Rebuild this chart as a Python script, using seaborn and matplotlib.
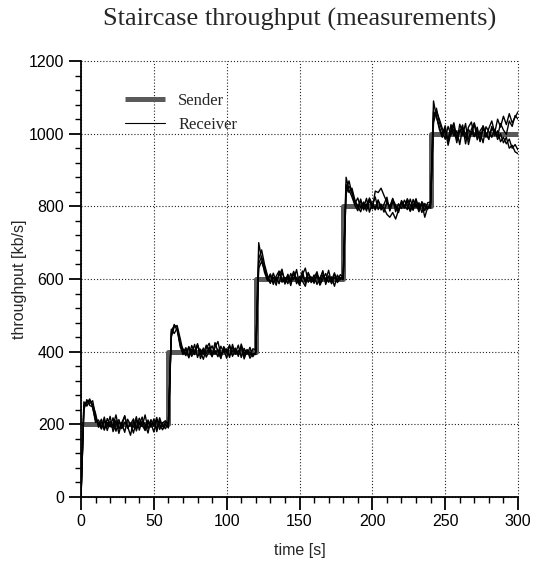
import numpy as np
import pandas as pd
import matplotlib
matplotlib.use("Agg")
import matplotlib.pyplot as plt
from matplotlib.lines import Line2D
from matplotlib.ticker import MultipleLocator
import seaborn as sns

# ---------------- data ----------------
sender_time = [0, 60, 120, 180, 240, 300]
sender_rate = [200, 400, 600, 800, 1000, 1000]

recv_time = np.arange(0, 301, 2)  # sample instants [s]

recv_1 = [
    0, 255, 262, 258, 265, 222, 198, 214, 186, 205, 193, 218, 181, 207, 196, 224, 189, 202, 176, 211, 199, 220, 185, 206, 192, 215, 180, 209, 197, 188,
    205, 455, 472, 468, 415, 392, 408, 385, 417, 398, 422, 381, 404, 395, 413, 388, 425, 399, 383, 410, 396, 419, 387, 406, 392, 415, 380, 403, 397, 390,
    398, 700, 655, 618, 596, 612, 585, 608, 622, 591, 604, 587, 615, 598, 626, 583, 609, 595, 618, 590, 603, 620, 586, 611, 597, 624, 589, 605, 593, 612,
    605, 880, 845, 826, 803, 788, 815, 797, 822, 784, 808, 795, 818, 790, 806, 825, 787, 812, 799, 783, 816, 803, 791, 820, 796, 808, 785, 813, 800, 792,
    810, 1090, 1045, 1018, 995, 1022, 978, 1010, 1030, 985, 1005, 1024, 972, 1012, 998, 1027, 983, 1008, 1020, 990, 1015, 1035, 1002, 1040, 1018, 1048, 1025, 1055, 1030, 1045, 1060,
]
recv_2 = [
    0, 240, 268, 252, 248, 205, 212, 190, 220, 183, 208, 196, 226, 187, 203, 178, 214, 199, 192, 221, 184, 209, 201, 176, 213, 195, 219, 186, 204, 210,
    198, 440, 468, 472, 438, 402, 389, 414, 396, 420, 384, 407, 393, 418, 401, 386, 412, 428, 391, 405, 382, 416, 399, 410, 387, 421, 395, 404, 389, 408,
    405, 630, 648, 625, 602, 588, 616, 594, 610, 627, 586, 603, 592, 619, 599, 584, 612, 630, 591, 606, 588, 614, 597, 623, 585, 608, 596, 617, 590, 602,
    598, 845, 870, 835, 812, 796, 820, 790, 805, 818, 793, 842, 838, 850, 830, 812, 798, 822, 785, 807, 794, 817, 802, 788, 819, 797, 810, 783, 808, 796,
    805, 1040, 1070, 1030, 1008, 985, 1020, 996, 1012, 975, 1026, 1003, 988, 1018, 1032, 992, 1010, 978, 1022, 1000, 986, 1015, 1004, 993, 1028, 1010, 998, 1035, 1020, 1050, 1040,
]
recv_3 = [
    0, 262, 250, 266, 255, 230, 192, 207, 184, 216, 198, 189, 211, 175, 205, 222, 191, 200, 215, 182, 207, 194, 226, 188, 203, 179, 212, 199, 185, 200,
    190, 462, 450, 465, 425, 397, 411, 383, 406, 392, 417, 400, 379, 409, 423, 394, 403, 386, 415, 398, 408, 384, 420, 393, 401, 413, 388, 406, 382, 395,
    392, 655, 680, 640, 610, 592, 605, 583, 618, 600, 589, 613, 596, 621, 587, 607, 594, 580, 616, 602, 592, 610, 583, 599, 615, 591, 606, 580, 611, 598,
    610, 860, 838, 850, 818, 800, 785, 812, 798, 823, 806, 790, 815, 801, 795, 778, 770, 783, 765, 790, 812, 797, 821, 804, 789, 815, 799, 809, 770, 798,
    795, 1060, 1050, 1012, 990, 1015, 968, 1003, 1021, 987, 1010, 996, 1028, 970, 1006, 992, 1018, 980, 1012, 1001, 984, 1020, 995, 1008, 978, 990, 972, 985, 960, 970, 955,
]
recv_4 = [
    0, 248, 258, 270, 246, 212, 203, 187, 210, 195, 222, 180, 201, 213, 188, 206, 194, 170, 208, 190, 217, 198, 183, 212, 196, 204, 187, 218, 193, 205,
    202, 448, 475, 458, 420, 408, 394, 412, 387, 403, 419, 391, 410, 385, 402, 416, 393, 407, 381, 414, 400, 389, 411, 396, 418, 384, 409, 393, 412, 386,
    400, 642, 662, 632, 598, 614, 590, 604, 587, 620, 598, 609, 582, 616, 601, 593, 622, 588, 605, 596, 611, 585, 603, 619, 594, 608, 587, 613, 599, 604,
    602, 835, 855, 842, 808, 823, 796, 810, 787, 815, 802, 826, 791, 806, 784, 812, 797, 820, 803, 789, 808, 795, 814, 786, 803, 821, 792, 806, 788, 810,
    812, 1030, 1062, 1040, 1015, 1000, 982, 1025, 994, 1008, 970, 1017, 999, 985, 1012, 1030, 996, 1004, 975, 1019, 1006, 990, 1012, 984, 1000, 975, 990, 960, 968, 950, 945,
]

x_ticks = [0, 50, 100, 150, 200, 250, 300]
y_ticks = [0, 200, 400, 600, 800, 1000, 1200]

title = "Staircase throughput (measurements)"
x_label = "time [s]"
y_label = "throughput [kb/s]"

# ---------------- frames ----------------
sender_df = pd.DataFrame({"time": sender_time, "rate": sender_rate})
recv_df = pd.concat(
    [pd.DataFrame({"time": recv_time, "rate": r, "run": i})
     for i, r in enumerate([recv_1, recv_2, recv_3, recv_4])],
    ignore_index=True,
)

# ---------------- style ----------------
sns.set_style("ticks")
plt.rcParams["font.family"] = ["Liberation Sans", "DejaVu Sans"]

fig = plt.figure(figsize=(5.34, 5.63), dpi=100)
ax = fig.add_axes([81 / 534, 1 - 497 / 563, 437 / 534, 436 / 563])

sender_color = "#5a5a5a"
sns.lineplot(data=sender_df, x="time", y="rate", ax=ax, color=sender_color,
             lw=3.6, drawstyle="steps-post", estimator=None, legend=False,
             solid_capstyle="butt", zorder=2)
sns.lineplot(data=recv_df, x="time", y="rate", units="run", estimator=None,
             ax=ax, color="black", lw=1.0, legend=False, zorder=3)

ax.set_xlim(0, 300)
ax.set_ylim(0, 1200)
ax.set_xticks(x_ticks)
ax.set_yticks(y_ticks)
ax.xaxis.set_minor_locator(MultipleLocator(10))
ax.yaxis.set_minor_locator(MultipleLocator(40))

ax.grid(True, which="major", color="#222222", linestyle=(0, (1.0, 1.8)), lw=0.8)
for gl in ax.get_xgridlines() + ax.get_ygridlines():
    gl.set_clip_on(False)
ax.set_axisbelow(True)
for s in ["top", "right"]:
    ax.spines[s].set_visible(False)
for s in ["left", "bottom"]:
    ax.spines[s].set_color("black")
    ax.spines[s].set_linewidth(1.3)

ax.tick_params(which="major", direction="out", length=9, width=1.3,
               color="black", labelsize=11.5, labelcolor="black", pad=3)
ax.tick_params(which="minor", direction="out", length=4.5, width=1.0,
               color="black")

ax.set_xlabel(x_label, fontsize=11.5, labelpad=10)
ax.set_ylabel(y_label, fontsize=11.5, labelpad=1)

fig.text(0.5 * (81 + 518) / 534 + 0.0, 1 - 19 / 563, title, ha="center",
         va="center", fontsize=19, family=["Liberation Serif", "DejaVu Serif"])

handles = [Line2D([], [], color=sender_color, lw=3.6, solid_capstyle="butt"),
           Line2D([], [], color="black", lw=0.8)]
ax.legend(handles, ["Sender", "Receiver"], loc="upper left",
          bbox_to_anchor=((125 - 81) / 437, 1 - (93 - 61) / 436),
          frameon=False, borderpad=0, borderaxespad=0, handlelength=2.4,
          handletextpad=0.8, labelspacing=0.45,
          prop={"family": ["Liberation Serif", "DejaVu Serif"], "size": 12})

fig.savefig("out.png", dpi=100)
